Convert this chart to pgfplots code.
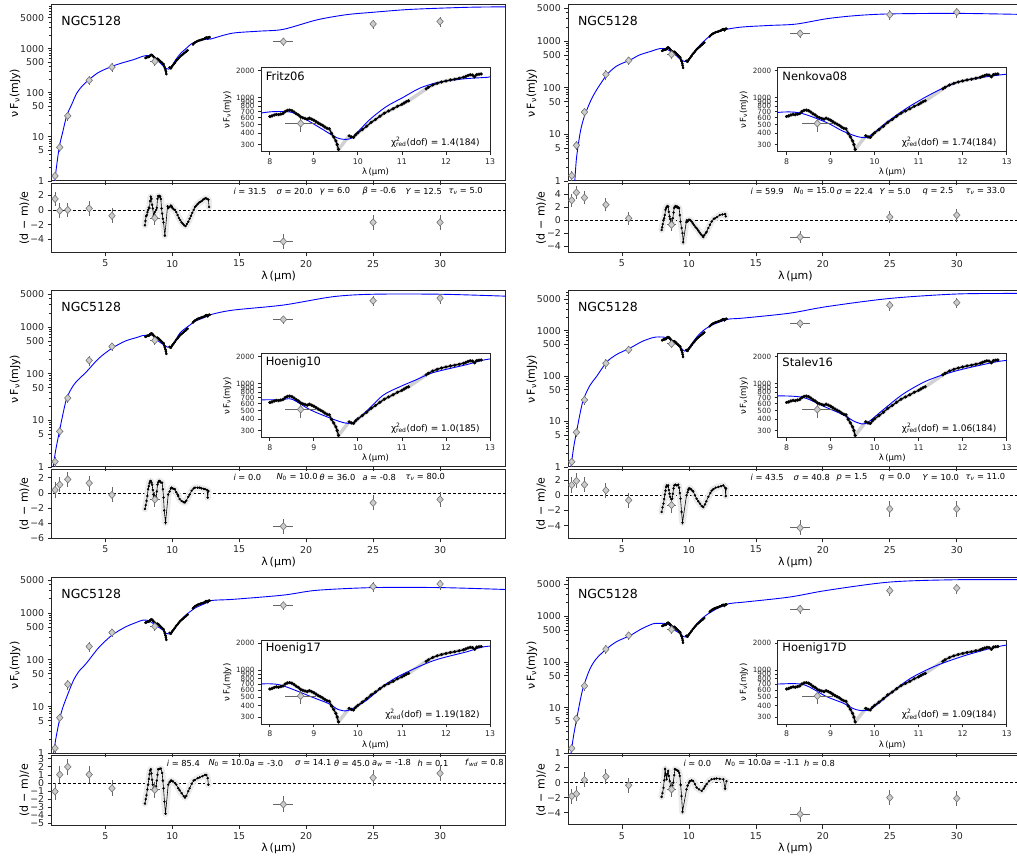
\documentclass[border=0pt]{standalone}
\usepackage{fontspec}
\setmainfont{DejaVu Sans}
\usepackage{pgfplots}
\usepackage{pgfplotstable}
\pgfplotsset{compat=1.18}

\pgfplotstableread{
x y
8.00 615
8.05 625
8.10 640
8.15 650
8.20 645
8.25 655
8.30 665
8.35 700
8.40 720
8.45 725
8.50 715
8.55 690
8.60 660
8.65 640
8.70 610
8.75 595
8.80 585
8.85 575
8.90 590
8.95 575
9.00 560
9.05 540
9.10 520
9.15 505
9.20 490
9.25 470
9.30 455
9.35 450
9.40 400
9.45 365
9.50 330
9.53 300
9.56 265
9.68 nan
9.80 375
9.85 365
9.90 360
9.95 385
10.00 405
10.10 440
10.20 480
10.30 530
10.40 570
10.50 620
10.60 670
10.70 710
10.80 750
10.90 800
11.00 840
11.05 870
11.10 900
11.15 920
11.35 nan
11.55 1250
11.60 1300
11.70 1380
11.80 1440
11.90 1490
12.00 1530
12.10 1570
12.20 1600
12.30 1640
12.40 1680
12.45 1720
12.50 1760
12.55 1790
12.60 1780
12.65 1700
12.70 1800
12.75 1820
12.80 1830
}\spec

\pgfplotstableread{
x y ex ey
1.25 1.3 0 0.3
1.6 5.8 0 1.3
2.2 30 0 7
3.8 192 0 45
5.5 382 0 80
8.7 515 0.35 100
18.3 1450 0.75 300
25 3650 0 900
30 4150 0 1000
}\phot

\pgfplotstableread{
x y
1.20 0.8
1.35 2.0
1.57 6.0
1.80 12
2.12 30
2.50 55
2.87 98
3.30 145
3.78 198
4.50 290
5.48 395
6.30 480
7.09 562
7.80 672
8.16 700
8.50 685
8.76 594
9.14 461
9.52 358
9.74 343
9.89 367
10.27 569
10.65 796
11.02 1000
11.40 1270
11.78 1460
12.15 1566
12.50 1630
12.90 1676
13.00 1700
14.50 2250
16.50 2500
18.30 2750
20.80 4500
23.00 5900
25.00 6700
27.50 7700
30.00 8300
32.50 8750
35.00 8900
}\mone
\pgfplotstableread{
x y
1.47 0.9
1.60 3.0
1.87 10.5
2.10 20
2.37 33
2.70 55
3.10 89
3.86 186
4.60 290
5.60 390
6.30 500
7.08 590
7.80 683
8.30 675
8.90 530
9.28 423
9.66 363
9.88 372
10.26 523
10.79 796
11.39 1164
11.92 1500
12.45 1676
13.00 1820
14.05 2000
16.00 2150
18.00 2300
20.30 3000
22.50 3500
25.00 3800
30.00 3900
35.00 3700
}\mtwo
\pgfplotstableread{
x y
1.08 0.9
1.30 2.3
1.57 5.7
1.80 12
2.12 29.6
2.60 55
3.00 75
3.60 110
4.50 210
5.48 347
6.50 500
7.40 600
7.80 656
8.25 660
8.50 670
8.91 513
9.28 430
9.66 369
9.89 369
10.19 490
10.57 740
10.95 920
11.32 1100
11.70 1320
12.46 1620
13.00 1880
14.55 2300
18.30 2950
22.00 4450
25.00 5030
30.00 5030
34.90 4570
}\mthree
\pgfplotstableread{
x y
1.17 0.9
1.40 2.8
1.62 6.2
1.85 14
2.11 30
2.60 62
3.11 99
3.86 204
4.60 300
5.60 415
6.50 580
7.34 710
7.80 730
8.38 700
8.90 543
9.28 451
9.58 372
9.81 362
10.19 509
10.64 760
11.17 1065
11.77 1350
12.45 1620
13.00 1810
14.05 1900
17.50 2430
20.30 3400
25.00 5140
30.00 6440
34.50 6630
35.00 6630
}\mfour
\pgfplotstableread{
x y
1.12 0.9
1.30 2.0
1.57 5.0
1.80 9
2.12 16
2.60 35
3.00 55
3.60 85
4.50 180
5.48 331
6.50 500
7.40 640
7.80 700
8.20 690
8.60 590
8.96 500
9.34 423
9.56 363
9.79 357
10.19 460
10.57 660
10.95 866
11.70 1265
12.46 1590
13.00 1850
14.55 1950
18.30 2400
20.80 3040
25.00 3470
30.00 3470
34.90 3160
}\mfive
\pgfplotstableread{
x y
1.17 0.9
1.40 2.6
1.62 5.7
1.85 13
2.11 28
2.60 70
3.10 120
3.86 195
4.60 280
5.60 380
6.50 540
7.34 690
7.80 700
8.38 690
8.90 509
9.28 430
9.58 363
9.88 363
10.26 500
10.79 795
11.39 1114
12.15 1500
13.00 1900
14.05 2040
17.50 2640
20.30 3700
25.00 5630
30.00 6330
35.00 6330
}\msix

\pgfplotstableread{
x y ex ey
1.25 1.5 0 1
1.6 -0.1 0 1
2.2 0.0 0 1
3.8 0.2 0 1
5.5 -0.8 0 1
8.7 -1.1 0.35 1
18.3 -4.3 0.75 1
25 -1.7 0 1
30 -1.7 0 1
}\rpone
\pgfplotstableread{
x y ex ey
1.25 3.1 0 1
1.6 4.3 0 1
2.2 3.5 0 1
3.8 2.4 0 1
5.5 0.3 0 1
8.7 -0.7 0.35 1
18.3 -2.6 0.75 1
25 0.5 0 1
30 0.8 0 1
}\rptwo
\pgfplotstableread{
x y ex ey
1.25 0.4 0 1
1.6 1.1 0 1
2.2 1.8 0 1
3.8 1.3 0 1
5.5 -0.25 0 1
8.7 -0.85 0.35 1
18.3 -4.4 0.75 1
25 -1.3 0 1
30 -0.85 0 1
}\rpthree
\pgfplotstableread{
x y ex ey
1.25 1.35 0 1
1.6 1.9 0 1
2.2 1.4 0 1
3.8 0.65 0 1
5.5 -0.65 0 1
8.7 -1.3 0.35 1
18.3 -4.3 0.75 1
25 -1.8 0 1
30 -1.8 0 1
}\rpfour
\pgfplotstableread{
x y ex ey
1.25 -1.05 0 1
1.6 1.05 0 1
2.2 2.0 0 1
3.8 1.05 0 1
5.5 -0.65 0 1
8.7 -0.85 0.35 1
18.3 -2.65 0.75 1
25 0.65 0 1
30 1.2 0 1
}\rpfive
\pgfplotstableread{
x y ex ey
1.25 -1.8 0 1
1.6 -1.5 0 1
2.2 0.35 0 1
3.8 0.8 0 1
5.5 -0.35 0 1
8.7 -0.9 0.35 1
18.3 -4.2 0.75 1
25 -2.0 0 1
30 -2.1 0 1
}\rpsix

\pgfplotstableread{
x y
7.96 -2.1
8.00 -1.5
8.05 -0.85
8.10 -0.7
8.15 -0.3
8.20 0.0
8.25 0.3
8.30 0.25
8.35 1.2
8.40 1.8
8.45 1.5
8.50 0.7
8.55 0.2
8.60 -0.85
8.65 -0.6
8.70 -0.3
8.80 0.0
8.85 0.3
8.90 1.5
8.95 1.9
9.00 1.8
9.05 1.9
9.10 1.8
9.15 1.5
9.20 0.2
9.25 -0.5
9.30 -1.2
9.35 -1.7
9.45 -3.5
9.65 0.5
9.70 0.25
9.80 0.4
9.90 0.6
9.95 0.5
10.00 0.3
10.10 0.1
10.20 0.0
10.30 -0.3
10.40 -0.7
10.50 -1.1
10.60 -1.4
10.70 -1.7
10.80 -1.9
10.90 -2.1
11.00 -2.2
11.10 -1.9
11.20 -1.6
11.30 -1.2
11.40 -0.8
11.50 -0.4
11.60 0.0
11.70 0.4
11.80 0.6
11.90 0.8
12.00 1.0
12.10 1.1
12.20 1.2
12.30 1.4
12.40 1.5
12.50 1.6
12.60 1.5
12.70 1.4
12.75 0.4
}\rsone
\pgfplotstableread{
x y
7.96 -1.5
8.00 -1.1
8.05 -0.6
8.10 0.0
8.15 0.3
8.20 0.8
8.25 1.6
8.30 1.9
8.35 2.1
8.40 2.2
8.45 2.1
8.50 1.3
8.55 0.6
8.60 0.2
8.65 -0.3
8.70 -0.5
8.75 -0.4
8.80 0.3
8.85 1.2
8.90 1.9
8.95 2.1
9.00 2.2
9.05 2.1
9.10 2.0
9.15 2.1
9.20 1.9
9.27 1.9
9.32 0.8
9.37 -0.2
9.45 -1.2
9.52 -2.0
9.57 -3.4
9.80 -0.3
9.85 0.0
9.90 -0.2
10.00 0.1
10.10 0.0
10.20 -0.2
10.30 -0.5
10.40 -0.8
10.50 -1.1
10.60 -1.3
10.70 -1.6
10.80 -1.9
10.90 -2.2
11.00 -2.4
11.07 -2.6
11.15 -2.3
11.25 -2.0
11.32 -1.8
11.45 -1.2
11.57 -0.7
11.70 -0.2
11.85 0.2
11.95 0.3
12.10 0.5
12.30 0.8
12.50 0.9
12.70 0.95
12.75 0.6
}\rstwo
\pgfplotstableread{
x y
7.96 -2.1
8.02 -1.6
8.08 -1.05
8.14 -0.4
8.20 0.5
8.25 0.9
8.30 1.3
8.35 1.55
8.40 1.6
8.45 1.4
8.50 1.1
8.55 0.4
8.60 -0.2
8.65 -0.5
8.70 -0.4
8.80 -0.6
8.85 0.2
8.90 1.1
8.95 1.4
9.00 1.55
9.05 1.6
9.10 1.5
9.15 1.4
9.25 1.35
9.30 0.5
9.35 -0.6
9.40 -2.3
9.50 -3.9
9.70 -0.2
9.80 0.2
9.90 0.6
9.95 0.7
10.05 0.6
10.15 0.5
10.20 0.5
10.30 0.1
10.40 -0.2
10.45 -0.4
10.55 -0.8
10.70 -1.05
10.85 -1.2
10.95 -1.25
11.05 -1.0
11.20 -0.5
11.30 -0.2
11.45 0.3
11.60 0.6
11.70 0.7
11.90 0.7
12.05 0.7
12.20 0.6
12.35 0.55
12.45 0.5
12.60 0.4
12.65 -0.6
12.70 0.25
}\rsthree
\pgfplotstableread{
x y
7.96 -2.2
8.03 -1.6
8.10 -1.1
8.15 -0.5
8.20 0.1
8.25 0.6
8.30 1.1
8.35 1.3
8.40 1.2
8.45 1.3
8.50 0.7
8.55 0.2
8.60 -0.2
8.68 -0.5
8.75 -0.45
8.80 0.2
8.85 0.9
8.90 1.3
9.00 1.4
9.10 1.3
9.20 1.4
9.27 1.0
9.32 0.3
9.37 -0.45
9.45 -2.2
9.52 -3.6
9.82 0.0
9.90 0.4
9.95 0.7
10.00 0.9
10.07 0.9
10.15 0.8
10.25 0.6
10.32 0.5
10.45 0.0
10.57 -0.45
10.70 -0.8
10.82 -1.1
10.95 -1.4
11.07 -1.55
11.20 -1.2
11.30 -0.8
11.45 -0.2
11.60 0.3
11.70 0.6
11.82 0.8
12.00 1.0
12.20 1.1
12.40 1.2
12.57 1.3
12.70 1.0
12.75 -0.1
12.77 0.9
}\rsfour
\pgfplotstableread{
x y
7.96 -2.55
8.02 -2.0
8.08 -1.5
8.14 -0.8
8.20 -0.2
8.25 0.5
8.30 1.1
8.35 1.55
8.40 1.7
8.45 1.2
8.50 0.4
8.55 -0.2
8.60 -0.65
8.70 -0.5
8.80 -0.4
8.85 0.3
8.90 1.0
8.95 1.7
9.05 1.75
9.15 1.8
9.25 1.25
9.30 0.3
9.35 -0.65
9.42 -2.3
9.50 -3.8
9.70 -0.2
9.80 0.1
9.90 0.3
9.95 0.3
10.05 0.2
10.20 0.0
10.30 -0.2
10.45 -0.65
10.55 -0.9
10.70 -1.25
10.85 -1.6
10.95 -1.8
11.05 -1.6
11.20 -1.0
11.30 -0.65
11.45 -0.1
11.60 0.3
11.70 0.4
11.90 0.6
12.05 0.7
12.25 0.85
12.45 1.0
12.55 1.0
12.65 0.6
12.70 -0.2
}\rsfive
\pgfplotstableread{
x y
7.96 -1.9
8.02 -1.4
8.10 -0.7
8.15 0.3
8.22 1.8
8.28 1.0
8.33 0.45
8.40 1.2
8.45 1.55
8.50 0.9
8.57 0.2
8.63 -0.5
8.70 -0.9
8.77 -0.4
8.83 0.0
8.90 1.0
8.95 1.8
9.05 1.7
9.15 1.6
9.20 1.55
9.27 1.3
9.32 0.9
9.38 -0.3
9.45 -1.8
9.52 -3.9
9.82 -0.9
9.90 -0.4
10.00 0.0
10.07 0.2
10.20 0.3
10.32 0.2
10.45 -0.2
10.57 -0.65
10.75 -0.9
10.95 -1.1
11.10 -0.8
11.20 -0.5
11.32 -0.2
11.50 0.2
11.70 0.45
11.90 0.5
12.07 0.55
12.30 0.5
12.57 0.45
12.70 -0.8
12.80 0.2
}\rssix

\newcommand{\fTK}{\fontsize{9.4}{10}\selectfont}
\newcommand{\fLB}{\fontsize{11}{12}\selectfont}
\newcommand{\fSM}{\fontsize{7.2}{7.5}\selectfont}
\newcommand{\fPF}{\fontsize{8.3}{9}\selectfont}

\newcommand{\panel}[9]{%
\begin{axis}[scale only axis, anchor=north west, at={({#1pt},{859pt-#2pt})},
  width=454pt, height=176pt, xmin=1.0, xmax=34.9, ymode=log, ymin=1, ymax=#3,
  axis line style={black!85, line width=1.0pt}, tick style={black!85, line width=0.8pt},
  tick align=outside, tick pos=left,
  xtick={5,10,15,20,25,30}, xticklabels={},
  ytick={1,5,10,50,100,500,1000,5000}, yticklabels={1,5,10,50,100,500,1000,5000},
  minor ytick={2,3,4,6,7,8,9,20,30,40,60,70,80,90,200,300,400,600,700,800,900,2000,3000,4000,6000,7000,8000,9000},
  major tick length=4pt, minor tick length=2.2pt,
  ticklabel style={font=\fTK, text=black!85},
  ylabel={ν\,F\textsubscript{ν}(mJy)}, ylabel style={font=\fLB, yshift=-7pt}]
\addplot[blue, line width=0.9pt, smooth, tension=0.5] table {#4};
\addplot[black, line width=1.6pt, unbounded coords=jump] table {\spec};
\addplot[only marks, mark=*, mark size=1.1pt, black] table {\spec};
\addplot[only marks, mark=diamond*, mark size=3.6pt, mark options={xscale=1.2, fill=black!20, draw=black!55, line width=0.6pt},
  error bars/.cd, x dir=both, x explicit, y dir=both, y explicit,
  error bar style={black!60, line width=0.9pt}, error mark=none]
  table[x=x,y=y,x error=ex,y error=ey] {\phot};
\node[anchor=west, font=\fontsize{12.5}{13}\selectfont, inner sep=0pt] at (rel axis cs:0.021,0.909) {NGC5128};
\end{axis}
\begin{axis}[scale only axis, anchor=north west, at={({#1pt+209.3pt},{859pt-#2pt-62.7pt})},
  width=229pt, height=84.3pt, xmin=7.8, xmax=13, ymode=log, ymin=248, ymax=2150,
  axis background/.style={fill=white},
  axis line style={black!85, line width=1.0pt}, tick style={black!85, line width=0.8pt},
  tick align=outside, tick pos=left,
  xtick={8,9,10,11,12,13}, xticklabels={8,9,10,11,12,13},
  ytick={300,400,500,600,700,800,900,1000,2000},
  yticklabels={300,400,500,600,700,800,900,1000,2000},
  major tick length=3pt,
  ticklabel style={font=\fSM, text=black!85},
  xticklabel style={font=\fontsize{7.8}{8}\selectfont},
  xlabel={λ\,(µm)}, ylabel={ν\,F\textsubscript{ν}(mJy)},
  label style={font=\fontsize{8.5}{9}\selectfont},
  xlabel style={yshift=3pt}, ylabel style={yshift=-2pt}]
\addplot[black!18, line width=3.5pt, line join=round] table {\spec};
\addplot[blue, line width=0.9pt, smooth, tension=0.5] table {#4};
\addplot[black, line width=1.2pt, unbounded coords=jump] table {\spec};
\addplot[only marks, mark=*, mark size=1.4pt, black] table {\spec};
\addplot[only marks, mark=diamond*, mark size=3.6pt, mark options={xscale=1.2, fill=black!20, draw=black!55, line width=0.6pt},
  error bars/.cd, x dir=both, x explicit, y dir=both, y explicit,
  error bar style={black!60, line width=0.9pt}, error mark=none]
  table[x=x,y=y,x error=ex,y error=ey] {\phot};
\node[anchor=west, font=\fontsize{11.5}{12}\selectfont, inner sep=0pt] at (rel axis cs:0.02,0.898) {#5};
\node[anchor=east, font=\fontsize{9}{10}\selectfont, inner sep=0pt] at (rel axis cs:0.956,0.119) {#6};
\end{axis}
\begin{axis}[scale only axis, anchor=north west, at={({#1pt},{859pt-#2pt-178.5pt})},
  width=454pt, height=69pt, xmin=1.0, xmax=34.9,
  axis line style={black!85, line width=1.0pt}, tick style={black!85, line width=0.8pt},
  tick align=outside, tick pos=left,
  xtick={5,10,15,20,25,30}, xticklabels={5,10,15,20,25,30},
  major tick length=4pt,
  ticklabel style={font=\fTK, text=black!85},
  xlabel={λ\,(µm)}, ylabel={(d − m)/e},
  label style={font=\fLB}, xlabel style={yshift=3pt}, ylabel style={yshift=-6pt}, #7]
\addplot[black, line width=0.8pt, dash pattern=on 3pt off 2pt] coordinates {(0,0) (36,0)};
\addplot[black!8, line width=6.5pt, line join=round, line cap=round] table {#9};
\addplot[black, line width=0.6pt] table {#9};
\addplot[only marks, mark=*, mark size=1.0pt, black] table {#9};
\addplot[only marks, mark=diamond*, mark size=3.6pt, mark options={xscale=1.2, fill=black!20, draw=black!55, line width=0.6pt},
  error bars/.cd, x dir=both, x explicit, y dir=both, y explicit,
  error bar style={black!60, line width=0.9pt}, error mark=none]
  table[x=x,y=y,x error=ex,y error=ey] {#8};
\end{axis}
}
\newcommand{\ptxt}[3]{\node[anchor=west, font=\fPF, inner sep=0pt] at ({#1pt},{859pt-#2pt}) {#3};}
\newcommand{\chit}[1]{χ\rlap{\textsuperscript{2}}\textsubscript{red}(dof) = #1}

\begin{document}
\begin{tikzpicture}
\path[use as bounding box] (0,0) rectangle (1017pt,859pt);
\clip (0,0) rectangle (1017pt,859pt);

\panel{51.7}{5}{9800}{\mone}{Fritz06}{\chit{1.4(184)}}%
  {ymin=-5.8, ymax=3.6, ytick={-4,-2,0,2}, yticklabels={−4,−2,0,2}}{\rpone}{\rsone}
\ptxt{233.3}{191}{\textit{i} = 31.5}
\ptxt{276.3}{191}{\textit{σ} = 20.0}
\ptxt{319.3}{191}{\textit{γ} = 6.0}
\ptxt{362.3}{191}{\textit{β} = -0.6}
\ptxt{405.3}{191}{\textit{Y} = 12.5}
\ptxt{448.3}{191}{\textit{τ}\textsubscript{\textit{ν}} = 5.0}

\panel{568.4}{5}{5900}{\mtwo}{Nenkova08}{\chit{1.74(184)}}%
  {ymin=-5.0, ymax=5.7, ytick={-4,-2,0,2,4}, yticklabels={−4,−2,0,2,4}}{\rptwo}{\rstwo}
\ptxt{750.5}{191}{\textit{i} = 59.9}
\ptxt{793.5}{191}{\textit{N}\textsubscript{0} = 15.0}
\ptxt{836.5}{191}{\textit{σ} = 22.4}
\ptxt{879.5}{191}{\textit{Y} = 5.0}
\ptxt{922.5}{191}{\textit{q} = 2.5}
\ptxt{965.5}{191}{\textit{τ}\textsubscript{\textit{ν}} = 33.0}

\panel{51.7}{291}{5900}{\mthree}{Hoenig10}{\chit{1.0(185)}}%
  {ymin=-6.0, ymax=3.1, ytick={-6,-4,-2,0,2}, yticklabels={−6,−4,−2,0,2}}{\rpthree}{\rsthree}
\ptxt{233.3}{477}{\textit{i} = 0.0}
\ptxt{276.3}{477}{\textit{N}\textsubscript{0} = 10.0}
\ptxt{319.3}{477}{\textit{θ} = 36.0}
\ptxt{362.3}{477}{\textit{a} = -0.8}
\ptxt{405.3}{477}{\textit{τ}\textsubscript{\textit{ν}} = 80.0}

\panel{568.4}{291}{7500}{\mfour}{Stalev16}{\chit{1.06(184)}}%
  {ymin=-5.7, ymax=3.4, ytick={-4,-2,0,2}, yticklabels={−4,−2,0,2}}{\rpfour}{\rsfour}
\ptxt{750.5}{477}{\textit{i} = 43.5}
\ptxt{793.5}{477}{\textit{σ} = 40.8}
\ptxt{836.5}{477}{\textit{p} = 1.5}
\ptxt{879.5}{477}{\textit{q} = 0.0}
\ptxt{922.5}{477}{\textit{Y} = 10.0}
\ptxt{965.5}{477}{\textit{τ}\textsubscript{\textit{ν}} = 11.0}

\panel{51.7}{577.5}{5700}{\mfive}{Hoenig17}{\chit{1.19(182)}}%
  {ymin=-5.2, ymax=3.35, ytick={-5,-4,-3,-2,-1,0,1,2,3}, yticklabels={−5,−4,−3,−2,−1,0,1,2,3}}{\rpfive}{\rsfive}
\ptxt{166.7}{763}{\textit{i} ≃ 85.4}
\ptxt{208.3}{763}{\textit{N}\textsubscript{0} ≃ 10.0}
\ptxt{249.5}{763}{\textit{a} ≃ -3.0}
\ptxt{295}{763}{\textit{σ} ≃ 14.1}
\ptxt{334}{763}{\textit{θ} ≃ 45.0}
\ptxt{372}{763}{\textit{a}\textsubscript{\textit{w}} ≃ -1.8}
\ptxt{417.5}{763}{\textit{h} ≃ 0.1}
\ptxt{465}{763}{\textit{f}\textsubscript{\textit{wd}} ≃ 0.8}

\panel{568.4}{577.5}{7080}{\msix}{Hoenig17D}{\chit{1.09(184)}}%
  {ymin=-5.65, ymax=3.55, ytick={-4,-2,0,2}, yticklabels={−4,−2,0,2}}{\rpsix}{\rssix}
\ptxt{683.3}{763}{\textit{i} ≃ 0.0}
\ptxt{725}{763}{\textit{N}\textsubscript{0} ≃ 10.0}
\ptxt{766}{763}{\textit{a} ≃ -1.1}
\ptxt{804}{763}{\textit{h} ≃ 0.8}
\end{tikzpicture}
\end{document}
